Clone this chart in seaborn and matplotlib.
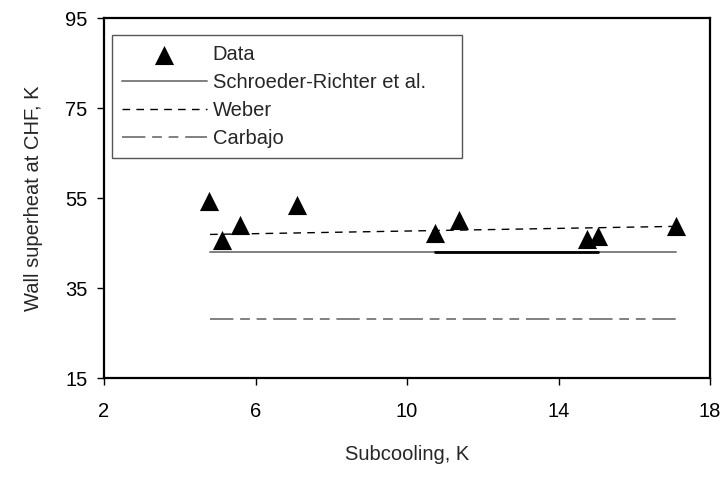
# Wall superheat at CHF vs. subcooling: data and correlations

import matplotlib
matplotlib.use("Agg")
import matplotlib.pyplot as plt
import seaborn as sns

# measured points
subcooling = [4.78, 5.11, 5.58, 7.09, 10.75, 11.36, 14.74, 15.04, 17.1]
superheat = [54.3, 45.7, 48.9, 53.5, 47.2, 50.1, 45.9, 46.6, 48.8]

# correlation lines (end points)
line_x = [4.8, 17.1]
schroeder_y = [43.0, 43.0]
weber_y = [46.9, 48.7]
carbajo_y = [28.2, 28.2]
# bold part of the Schroeder-Richter line over the tested range
bold_x = [10.75, 15.04]
bold_y = [43.0, 43.0]

x_ticks = [2, 6, 10, 14, 18]
y_ticks = [15, 35, 55, 75, 95]

sns.set_style("white")
plt.rcParams["font.family"] = ["Liberation Sans", "DejaVu Sans"]
fs = 14.5

fig = plt.figure(figsize=(7.2, 4.78), dpi=100)
ax = fig.add_axes([104 / 720, 1 - 378 / 478, 606 / 720, 360 / 478])

sns.lineplot(x=line_x, y=schroeder_y, ax=ax, color="#808080", lw=1.4,
             label="Schroeder-Richter et al.")
sns.lineplot(x=bold_x, y=bold_y, ax=ax, color="black", lw=2.0)
sns.lineplot(x=line_x, y=weber_y, ax=ax, color="black", lw=1.0,
             label="Weber").lines[-1].set_dashes([5.5, 4.5])
sns.lineplot(x=line_x, y=carbajo_y, ax=ax, color="#808080", lw=1.4, label="Carbajo")
ax.lines[-1].set_dashes([12, 3.5, 5, 3.5, 5, 3.5])
sns.scatterplot(x=subcooling, y=superheat, ax=ax, marker="^", s=190,
                color="black", edgecolor="black", linewidth=0, label="Data", zorder=5)

ax.set_xlim(2, 18)
ax.set_ylim(15, 95)
ax.set_xticks(x_ticks)
ax.set_yticks(y_ticks)
ax.tick_params(direction="out", length=5, width=1, colors="black", labelsize=fs)
ax.tick_params(axis="x", pad=12)
ax.tick_params(axis="y", pad=7)
ax.xaxis.set_ticks_position("bottom")
ax.yaxis.set_ticks_position("left")
for sp in ax.spines.values():
    sp.set_color("black")
    sp.set_linewidth(1.6)

ax.set_xlabel("Subcooling, K", fontsize=fs)
ax.set_ylabel("Wall superheat at CHF, K", fontsize=fs)
ax.xaxis.set_label_coords(0.5, -0.185)
ax.yaxis.set_label_coords(-0.1, 0.5)

# legend in the original order
handles, labels = ax.get_legend_handles_labels()
order = ["Data", "Schroeder-Richter et al.", "Weber", "Carbajo"]
hmap = dict(zip(labels, handles))
leg = ax.legend([hmap[k] for k in order], order, loc="upper left",
                bbox_to_anchor=(0.013, 0.625, 0.578, 0.328), mode="expand",
                borderaxespad=0, fontsize=fs, handlelength=4.2, handletextpad=0.3,
                labelspacing=0.45, borderpad=0.5, fancybox=False, framealpha=1,
                scatterpoints=1)
leg.get_frame().set_edgecolor("#555555")
leg.get_frame().set_linewidth(1.0)

fig.savefig("out.png", dpi=100)
